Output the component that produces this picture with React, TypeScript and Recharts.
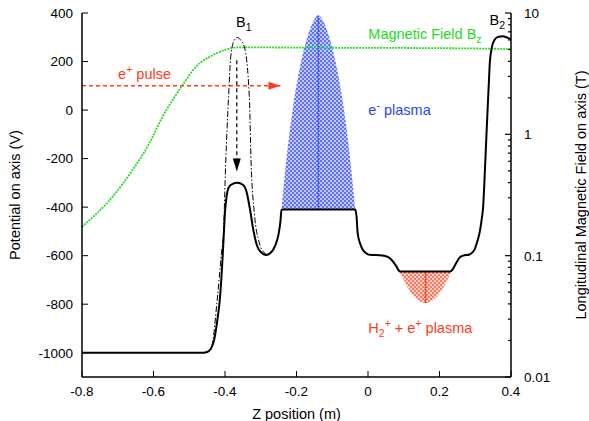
import { ComposedChart, Line, Area, XAxis, YAxis, ReferenceDot } from "recharts";

const zTicks = [-0.8, -0.6, -0.4, -0.2, 0, 0.2, 0.4];
const vTicks = [-1000, -800, -600, -400, -200, 0, 200, 400];
const bMajor = [0.01, 0.1, 1, 10];
const bMinor = [
  0.02, 0.03, 0.04, 0.05, 0.06, 0.07, 0.08, 0.09,
  0.2, 0.3, 0.4, 0.5, 0.6, 0.7, 0.8, 0.9,
  2, 3, 4, 5, 6, 7, 8, 9,
];

// on-axis potential (V)
const potZ = [
  -0.8, -0.46, -0.45, -0.44, -0.43, -0.42, -0.415, -0.41, -0.405, -0.4, -0.395, -0.39,
  -0.38, -0.365, -0.35, -0.34, -0.33, -0.32, -0.31, -0.3, -0.285, -0.27, -0.26, -0.25,
  -0.245, -0.242, -0.238, -0.036, -0.032, -0.029, -0.022, -0.015, -0.005, 0.004, 0.04,
  0.055, 0.065, 0.079, 0.088, 0.092, 0.23, 0.235, 0.247, 0.256, 0.266, 0.284, 0.298,
  0.305, 0.312, 0.318, 0.322, 0.327, 0.332, 0.337, 0.341, 0.346, 0.354, 0.365, 0.377,
  0.39, 0.4,
];
const potV = [
  -1000, -1000, -997, -985, -945, -850, -790, -690, -560, -420, -350, -320,
  -305, -300, -308, -335, -410, -500, -560, -585, -597, -585, -560, -510,
  -460, -412, -410, -410, -440, -506, -550, -575, -590, -596, -599,
  -605, -616, -643, -664, -665, -665, -660, -629, -608, -600, -595, -575,
  -545, -506, -450, -400, -250, -80, 80, 200, 255, 290, 302, 304,
  298, 292,
];

// catching barrier (dash-dot)
const trapZ = [
  -0.46, -0.445, -0.435, -0.423, -0.416, -0.41, -0.404, -0.398, -0.39, -0.384,
  -0.374, -0.365, -0.356, -0.346, -0.332, -0.327, -0.318, -0.304, -0.29, -0.282,
];
const trapV = [
  -1000, -995, -960, -800, -691, -590, -493, -218, 55, 219,
  288, 299, 288, 262, 55, -218, -424, -547, -588, -596,
];

// magnetic field Bz (T)
const fieldZ = [-0.8, -0.715, -0.659, -0.612, -0.575, -0.547, -0.519, -0.482, -0.435, -0.397, -0.36, -0.3, -0.1, 0.1, 0.3, 0.4];
const fieldB = [0.173, 0.305, 0.506, 0.84, 1.39, 1.91, 2.54, 3.59, 4.48, 5.0, 5.2, 5.2, 5.17, 5.15, 5.1, 5.05];

// electron plasma
const eZ = [-0.242, -0.235, -0.225, -0.21, -0.19, -0.17, -0.155, -0.139, -0.123, -0.108, -0.088, -0.068, -0.053, -0.043, -0.036];
const eV = [-410, -300, -160, 10, 180, 300, 360, 390, 360, 300, 180, 10, -160, -300, -410];
const eBase = -410;
const eCenter = -0.139;

// H2+ + e+ plasma
const hZ = [0.088, 0.1, 0.115, 0.13, 0.145, 0.161, 0.177, 0.192, 0.207, 0.22, 0.233];
const hV = [-665, -700, -740, -770, -788, -795, -788, -770, -740, -705, -665];
const hBase = -665;
const hCenter = 0.161;

const zip = (xs: number[], ys: number[], key: string) => xs.map((x, i) => ({ x, [key]: ys[i] }));

const potData = zip(potZ, potV, "v");
const trapData = zip(trapZ, trapV, "v");
const fieldData = zip(fieldZ, fieldB, "b");
const eData = zip(eZ, eV, "v");
const hData = zip(hZ, hV, "v");
const eLine = [{ x: eCenter, v: eBase }, { x: eCenter, v: 390 }];
const hLine = [{ x: hCenter, v: hBase }, { x: hCenter, v: -795 }];
const pulseData = [{ x: -0.8, v: 100 }, { x: -0.245, v: 100 }];
const dropData = [{ x: -0.367, v: 205 }, { x: -0.367, v: -253 }];

const FONT = "'Liberation Sans', Arial, Helvetica, sans-serif";
const RED = "#ff3a22";
const GREEN = "#22dd22";
const BLUE = "#2a44f0";

function LogTick(props: any) {
  const { x, y, payload } = props;
  const major = bMajor.includes(payload.value);
  return (
    <g>
      <line x1={x - (major ? 6 : 3)} x2={x} y1={y} y2={y} stroke="#000" strokeWidth={1.2} />
      {major && (
        <text x={x + 13} y={y} dy="0.36em" fontSize={13.5} fill="#000" fontFamily={FONT}>
          {payload.value}
        </text>
      )}
    </g>
  );
}

function arrowRight(p: any) {
  if (p.index !== 1) return <g key={`r${p.index}`} />;
  return <path key="rh" d={`M${p.cx},${p.cy} L${p.cx - 12},${p.cy - 4} L${p.cx - 12},${p.cy + 4} Z`} fill={RED} />;
}

function arrowDown(p: any) {
  if (p.index !== 1) return <g key={`d${p.index}`} />;
  return <path key="dh" d={`M${p.cx},${p.cy} L${p.cx - 4},${p.cy - 13} L${p.cx + 4},${p.cy - 13} Z`} fill="#000" />;
}

function note(parts: { t: string; dy?: number; dx?: number; small?: boolean }[], color: string) {
  return (p: any) => (
    <text x={p.viewBox.x} y={p.viewBox.y} fill={color} fontSize={14.5} fontFamily={FONT}>
      {parts.map((s, i) => (
        <tspan key={i} dy={s.dy ?? 0} dx={s.dx ?? 0} fontSize={s.small ? 10.5 : 14.5}>
          {s.t}
        </tspan>
      ))}
    </text>
  );
}

const leftTitle = (p: any) => {
  const x = p.viewBox.x + 20;
  const y = p.viewBox.y + p.viewBox.height / 2;
  return (
    <text x={x} y={y} transform={`rotate(-90, ${x}, ${y})`} textAnchor="middle" fontSize={14.5} fontFamily={FONT} fill="#000">
      Potential on axis (V)
    </text>
  );
};

const rightTitle = (p: any) => {
  const x = p.viewBox.x + 75;
  const y = p.viewBox.y + p.viewBox.height / 2;
  return (
    <text x={x} y={y} transform={`rotate(-90, ${x}, ${y})`} textAnchor="middle" fontSize={14.5} fontFamily={FONT} fill="#000">
      Longitudinal Magnetic Field on axis (T)
    </text>
  );
};

const bottomTitle = (p: any) => (
  <text x={p.viewBox.x + p.viewBox.width / 2} y={p.viewBox.y + 42} textAnchor="middle" fontSize={14.5} fontFamily={FONT} fill="#000">
    Z position (m)
  </text>
);

const axisStroke = { stroke: "#000", strokeWidth: 1.5 };
const tickStyle = { fill: "#000", fontSize: 13.5, fontFamily: FONT };

export default function App() {
  return (
    <div style={{ position: "absolute", left: 0, top: 0, fontFamily: FONT }}>
      <ComposedChart width={589} height={421} margin={{ top: 13, right: 0, bottom: 0, left: 0 }}>
        <defs>
          <pattern id="ePat" width="4" height="4" patternUnits="userSpaceOnUse">
            <rect width="4" height="4" fill="#c2c9ff" />
            <rect width="2" height="2" fill="#6272f6" />
            <rect x="2" y="2" width="2" height="2" fill="#6272f6" />
          </pattern>
          <pattern id="hPat" width="4" height="4" patternUnits="userSpaceOnUse">
            <rect width="4" height="4" fill="#ffd2c6" />
            <rect width="2" height="2" fill="#ff7864" />
            <rect x="2" y="2" width="2" height="2" fill="#ff7864" />
          </pattern>
        </defs>

        <XAxis
          dataKey="x"
          type="number"
          domain={[-0.8, 0.4]}
          ticks={zTicks}
          interval={0}
          allowDataOverflow
          height={44}
          tickSize={-6}
          tickMargin={15}
          axisLine={axisStroke}
          tickLine={{ stroke: "#000" }}
          tick={tickStyle}
          label={{ content: bottomTitle }}
        />
        <XAxis
          xAxisId="top"
          orientation="top"
          type="number"
          domain={[-0.8, 0.4]}
          ticks={zTicks}
          interval={0}
          allowDataOverflow
          height={0}
          tickSize={-6}
          tick={false}
          axisLine={axisStroke}
          tickLine={{ stroke: "#000" }}
        />
        <YAxis
          yAxisId="v"
          type="number"
          domain={[-1100, 400]}
          ticks={vTicks}
          interval={0}
          allowDataOverflow
          width={82}
          tickSize={-6}
          tickMargin={15}
          axisLine={axisStroke}
          tickLine={{ stroke: "#000" }}
          tick={tickStyle}
          label={{ content: leftTitle }}
        />
        <YAxis
          yAxisId="b"
          orientation="right"
          type="number"
          scale="log"
          domain={[0.01, 10]}
          ticks={[...bMajor, ...bMinor]}
          interval={0}
          allowDataOverflow
          width={78}
          tickSize={0}
          tickMargin={0}
          tickLine={false}
          axisLine={axisStroke}
          tick={<LogTick />}
          label={{ content: rightTitle }}
        />

        <Line yAxisId="b" data={fieldData} dataKey="b" type="monotone" stroke={GREEN} strokeWidth={1.8} strokeDasharray="2 1" dot={false} activeDot={false} isAnimationActive={false} />
        <Line yAxisId="v" data={pulseData} dataKey="v" type="linear" stroke={RED} strokeWidth={1.5} strokeDasharray="4 3" dot={arrowRight} activeDot={false} isAnimationActive={false} />

        <Area yAxisId="v" data={eData} dataKey="v" type="monotone" baseValue={eBase} stroke="none" fill="url(#ePat)" fillOpacity={1} isAnimationActive={false} activeDot={false} />
        <Area yAxisId="v" data={hData} dataKey="v" type="monotone" baseValue={hBase} stroke="none" fill="url(#hPat)" fillOpacity={1} isAnimationActive={false} activeDot={false} />
        <Line yAxisId="v" data={eLine} dataKey="v" stroke={BLUE} strokeWidth={1.6} strokeDasharray="1.5 1" dot={false} activeDot={false} isAnimationActive={false} />
        <Line yAxisId="v" data={hLine} dataKey="v" stroke="#e81800" strokeWidth={1.6} strokeDasharray="1.5 1" dot={false} activeDot={false} isAnimationActive={false} />

        <Line yAxisId="v" data={trapData} dataKey="v" type="monotone" stroke="#000" strokeWidth={1} strokeDasharray="6 2 1.5 2" dot={false} activeDot={false} isAnimationActive={false} />
        <Line yAxisId="v" data={potData} dataKey="v" type="monotone" stroke="#000" strokeWidth={2} dot={false} activeDot={false} isAnimationActive={false} />
        <Line yAxisId="v" data={dropData} dataKey="v" type="linear" stroke="#000" strokeWidth={1.2} strokeDasharray="4 3" dot={arrowDown} activeDot={false} isAnimationActive={false} />

        <ReferenceDot yAxisId="v" x={-0.369} y={341} r={0} label={{ content: note([{ t: "B" }, { t: "1", dy: 4, small: true }], "#000") }} />
        <ReferenceDot yAxisId="v" x={0.34} y={349} r={0} label={{ content: note([{ t: "B" }, { t: "2", dy: 4, small: true }], "#000") }} />
        <ReferenceDot yAxisId="v" x={0.001} y={291} r={0} label={{ content: note([{ t: "Magnetic Field B" }, { t: "z", dy: 4, small: true }], GREEN) }} />
        <ReferenceDot yAxisId="v" x={-0.699} y={130} r={0} label={{ content: note([{ t: "e" }, { t: "+", dy: -6, small: true }, { t: " pulse", dy: 6 }], RED) }} />
        <ReferenceDot yAxisId="v" x={0.001} y={-20} r={0} label={{ content: note([{ t: "e" }, { t: "-", dy: -6, small: true }, { t: " plasma", dy: 6 }], BLUE) }} />
        <ReferenceDot
          yAxisId="v"
          x={0.001}
          y={-917}
          r={0}
          label={{
            content: note(
              [
                { t: "H" },
                { t: "2", dy: 4, small: true },
                { t: "+", dy: -10, small: true },
                { t: " + e", dy: 6 },
                { t: "+", dy: -6, small: true },
                { t: " plasma", dy: 6 },
              ],
              RED
            ),
          }}
        />
      </ComposedChart>
    </div>
  );
}
